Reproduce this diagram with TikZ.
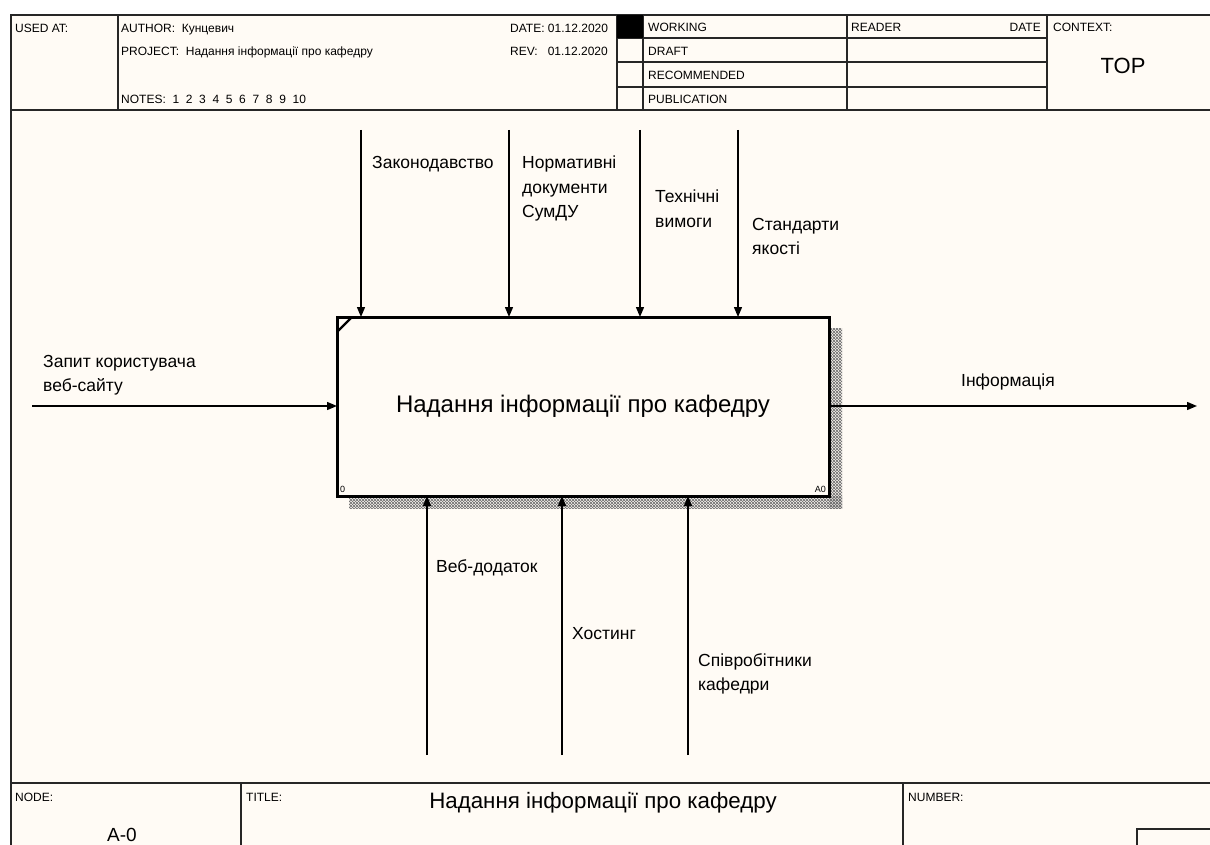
\documentclass[tikz,border=0pt]{standalone}
\usepackage{fontspec}
\setmainfont{Liberation Sans}
\usetikzlibrary{arrows.meta,patterns.meta}
\definecolor{paper}{HTML}{FFFBF5}
% fine diagonal hatching used for the box shadow
\tikzdeclarepattern{name=finehatch, type=uncolored,
  bottom left={(-.5pt,-.5pt)}, top right={(3.5pt,3.5pt)}, tile size={(3pt,3pt)},
  code={\draw[line width=.7pt] (0,0) -- (3pt,3pt); \draw[line width=.7pt] (0,3pt) -- (3pt,0);}}
\begin{document}
\begin{tikzpicture}[x=1pt,y=-1pt,
  frame/.style={line width=1.6pt, draw=black!85},
  hdr/.style={font=\fontsize{12}{14}\selectfont, anchor=base west, inner sep=0pt},
  lbl/.style={font=\fontsize{17.5}{24.5}\selectfont, align=left, anchor=north west, inner sep=0pt},
  arr/.style={line width=1.4pt, -{Triangle[length=10pt,width=8pt]}},
  activity/.style={draw, line width=3pt, fill=paper, minimum width=492pt,
    minimum height=179pt, inner sep=0pt, outer sep=0pt, font=\fontsize{24}{28}\selectfont},
  shade/.style={pattern={finehatch}, pattern color=black!55},
  ]
\useasboundingbox (0,0) rectangle (1210,845);
\fill[paper] (11,15) rectangle (1210,845);

% outer frame and header grid
\draw[frame] (1210,15) -- (11,15) -- (11,845);
\draw[frame] (11,110) -- (1210,110);
\draw[frame] (118,15) -- (118,110);
\draw[frame] (617,15) -- (617,110);
\draw[frame] (643,15) -- (643,110);
\draw[frame] (847,15) -- (847,110);
\draw[frame] (1047,15) -- (1047,110);
\foreach \yy in {38,62,87} \draw[frame] (617,\yy) -- (1047,\yy);
\fill (617,15) rectangle (643,38);

% header texts (positions are baselines)
\node[hdr] (usedat) at (15,33) {USED AT:};
\node[hdr] (author) at (121,33) {AUTHOR:\ \ Кунцевич};
\node[hdr] (project) at (121,56) {PROJECT:\ \ Надання інформації про кафедру};
\node[hdr] (notes) at (121,104) {NOTES:\ \ 1\ \ 2\ \ 3\ \ 4\ \ 5\ \ 6\ \ 7\ \ 8\ \ 9\ \ 10};
\node[hdr] (date) at (510,33) {DATE:\ 01.12.2020};
\node[hdr] (rev) at (510,56) {REV:\ \ \ 01.12.2020};
\node[hdr] (working) at (648,32) {WORKING};
\node[hdr] (draft) at (648,56) {DRAFT};
\node[hdr] (recommended) at (648,80) {RECOMMENDED};
\node[hdr] (publication) at (648,104) {PUBLICATION};
\node[hdr] (reader) at (851,32) {READER};
\node[hdr, anchor=base east] (rdate) at (1041,32) {DATE};
\node[hdr] (context) at (1053,32) {CONTEXT:};
\node[font=\fontsize{22}{24}\selectfont, inner sep=0pt] (top) at (1123,66) {TOP};

% footer grid and texts
\draw[frame] (11,783) -- (1210,783);
\draw[frame] (241,783) -- (241,845);
\draw[frame] (903,783) -- (903,845);
\draw[frame] (1210,829) -- (1137,829) -- (1137,845);
\node[hdr] (nodelbl) at (15,801) {NODE:};
\node[font=\fontsize{19}{22}\selectfont, inner sep=0pt] (nodeno) at (122,835) {A-0};
\node[hdr] (titlelbl) at (246,801) {TITLE:};
\node[font=\fontsize{22.3}{24}\selectfont, inner sep=0pt] (title) at (603,803) {Надання інформації про кафедру};
\node[hdr] (numberlbl) at (908,801) {NUMBER:};

% activity box with its shadow
\fill[shade] (829,328) rectangle (842,508);
\fill[shade] (349,496) rectangle (842,508);
\node[activity] (box) at (583,406.5) {Надання інформації про кафедру};
\draw[line width=2.4pt] ([yshift=-15pt]box.north west) -- ([xshift=15pt]box.north west);
\node[anchor=south west, font=\fontsize{9}{10}\selectfont, inner sep=3pt] (boxno) at (box.south west) {0};
\node[anchor=south east, font=\fontsize{9}{10}\selectfont, inner sep=3pt] (boxid) at (box.south east) {A0};

% controls
\coordinate (c1) at (361,130);
\coordinate (c2) at (509,130);
\coordinate (c3) at (640,130);
\coordinate (c4) at (738,130);
\foreach \c in {c1,c2,c3,c4} \draw[arr] (\c) -- (\c |- box.north);

% mechanisms
\coordinate (m1) at (427,755);
\coordinate (m2) at (562,755);
\coordinate (m3) at (688,755);
\foreach \m in {m1,m2,m3} \draw[arr] (\m) -- (\m |- box.south);

% input and output
\coordinate (in) at (32,406);
\coordinate (out) at (1197,406);
\draw[arr] (in) -- (in -| box.west);
\draw[arr] (box.east |- out) -- (out);

% arrow labels
\node[lbl] (l1) at (372,156) {Законодавство};
\node[lbl] (l2) at (522,156) {Нормативні\\документи\\СумДУ};
\node[lbl] (l3) at (655,190) {Технічні\\вимоги};
\node[lbl] (l4) at (752,218) {Стандарти\\якості};
\node[lbl] (l5) at (43,355) {Запит користувача\\веб-сайту};
\node[lbl] (l6) at (961,374) {Інформація};
\node[lbl] (l7) at (436,559) {Веб-додаток};
\node[lbl] (l8) at (572,627) {Хостинг};
\node[lbl] (l9) at (698,653) {Співробітники\\кафедри};
\end{tikzpicture}
\end{document}
